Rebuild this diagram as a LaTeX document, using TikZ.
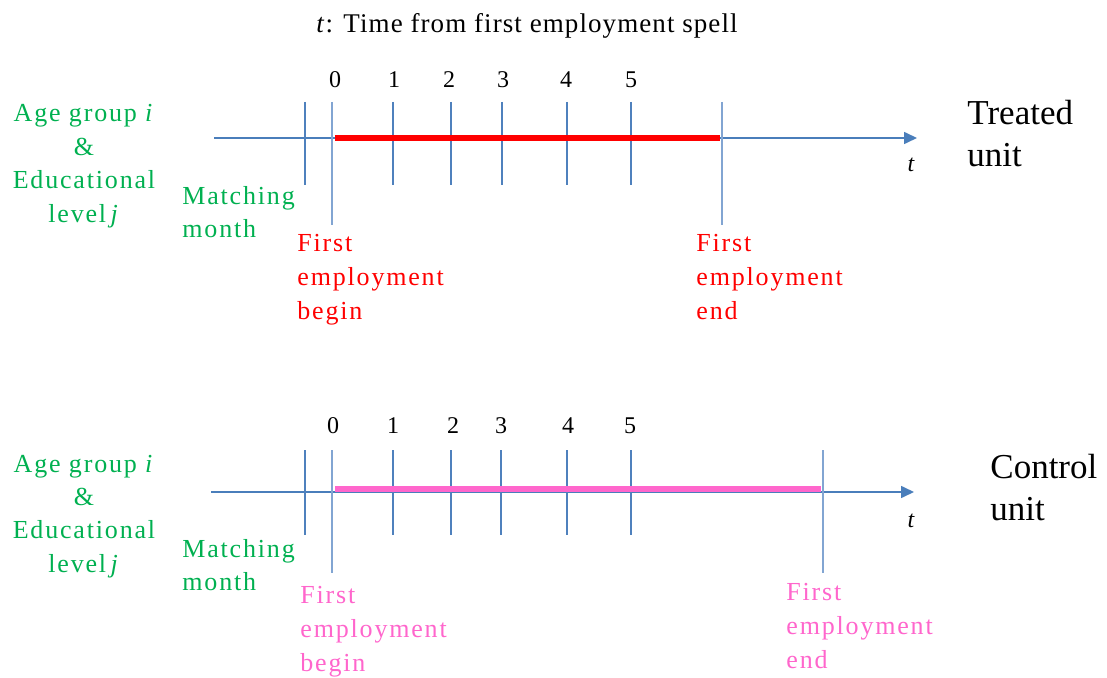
\documentclass[tikz,border=0pt]{standalone}
\usepackage{fontspec}
\setmainfont{Liberation Serif}
\newfontfamily\spaced[LetterSpace=7]{Liberation Serif}
\newfontfamily\spacedt[LetterSpace=4]{Liberation Serif}
\usetikzlibrary{arrows.meta}
\definecolor{axisblue}{RGB}{74,126,187}
\definecolor{tickblue}{RGB}{79,129,189}
\definecolor{lightblue}{RGB}{130,165,210}
\definecolor{labgreen}{RGB}{0,176,80}
\definecolor{spanred}{RGB}{255,0,0}
\definecolor{spanpink}{RGB}{255,102,204}
\newcommand\stk[2][l]{\begin{tabular}[t]{@{}#1@{}}#2\end{tabular}}
\tikzset{
  axisline/.style={draw=axisblue, line width=0.8pt, -{Triangle[length=6.5pt,width=6pt]}},
  tickline/.style={draw=tickblue, line width=0.75pt},
  edgetick/.style={draw=lightblue, line width=0.8pt},
  spanline/.style={line width=3.2pt},
  ticklab/.style={inner sep=0pt, anchor=base, font=\fontsize{12}{14}\selectfont},
  grouplab/.style={inner sep=0pt, anchor=base, text=labgreen, font=\spaced\fontsize{13}{16.7}\selectfont},
  matchlab/.style={inner sep=0pt, anchor=base west, text=labgreen, font=\spaced\fontsize{13}{16.5}\selectfont},
  evlab/.style={inner sep=0pt, anchor=base west, font=\spaced\fontsize{13}{17}\selectfont},
  unitlab/.style={inner sep=0pt, anchor=base west, font=\fontsize{17.5}{21}\selectfont},
  tlab/.style={inner sep=0pt, anchor=base, font=\fontsize{12}{14}\selectfont\itshape},
}
\begin{document}
\begin{tikzpicture}[x=0.5pt, y=-0.5pt]
\useasboundingbox (0,0) rectangle (1107,678);

% title
\node[inner sep=0pt, anchor=base, font=\spacedt\fontsize{13.5}{16}\selectfont] (title) at (527,33) {\textit{t}: Time from first employment spell};

% ================= Treated unit =================
\coordinate (Ta) at (214,138);
\coordinate (Tb) at (917,138);
\draw[axisline] (Ta) -- (Tb);
\coordinate (Tm1) at (305,102); \coordinate (Tm2) at (305,185);
\draw[tickline] (Tm1) -- (Tm2);
\coordinate (Ts1) at (332,102); \coordinate (Ts2) at (332,225);
\draw[edgetick] (Ts1) -- (Ts2);
\foreach \k/\xx in {1/393,2/451,3/502,4/567,5/631}{
  \coordinate (Tk\k a) at (\xx,102); \coordinate (Tk\k b) at (\xx,185);
  \draw[tickline] (Tk\k a) -- (Tk\k b);
}
\coordinate (Te1) at (722,102); \coordinate (Te2) at (722,225);
\draw[edgetick] (Te1) -- (Te2);
\coordinate (Tr1) at (335,138); \coordinate (Tr2) at (720,138);
\draw[spanline, spanred] (Tr1) -- (Tr2);
\foreach \k/\xx in {0/335,1/394,2/449,3/503,4/566,5/631}{
  \node[ticklab] (Tl\k) at (\xx,88) {\k};
}
\node[tlab] (Tt) at (911,172) {t};
\node[unitlab] (Tu) at (967,125) {\stk{Treated\\unit}};
\node[grouplab] (Tg) at (84,122) {\stk[c]{Age group \textit{i}\\\&\\Educational\\level\,\textit{j}}};
\node[matchlab] (Tmm) at (182,205) {\stk{Matching\\month}};
\node[evlab, text=spanred] (Tfb) at (297,252) {\stk{First\\employment\\begin}};
\node[evlab, text=spanred] (Tfe) at (696,252) {\stk{First\\employment\\end}};

% ================= Control unit =================
\coordinate (Ca) at (211,492);
\coordinate (Cb) at (914,492);
\draw[axisline] (Ca) -- (Cb);
\coordinate (Cm1) at (305,450); \coordinate (Cm2) at (305,535);
\draw[tickline] (Cm1) -- (Cm2);
\coordinate (Cs1) at (332,450); \coordinate (Cs2) at (332,573);
\draw[edgetick] (Cs1) -- (Cs2);
\foreach \k/\xx in {1/393,2/451,3/501,4/567,5/631}{
  \coordinate (Ck\k a) at (\xx,450); \coordinate (Ck\k b) at (\xx,535);
  \draw[tickline] (Ck\k a) -- (Ck\k b);
}
\coordinate (Ce1) at (823,450); \coordinate (Ce2) at (823,573);
\draw[edgetick] (Ce1) -- (Ce2);
\coordinate (Cr1) at (335,489); \coordinate (Cr2) at (821,489);
\draw[spanline, spanpink] (Cr1) -- (Cr2);
\foreach \k/\xx in {0/333,1/393,2/453,3/501,4/568,5/630}{
  \node[ticklab] (Cl\k) at (\xx,433) {\k};
}
\node[tlab] (Ct) at (911,527) {t};
\node[unitlab] (Cu) at (990,478) {\stk{Control\\unit}};
\node[grouplab] (Cg) at (84,472) {\stk[c]{Age group \textit{i}\\\&\\Educational\\level\,\textit{j}}};
\node[matchlab] (Cmm) at (182,557) {\stk{Matching\\month}};
\node[evlab, text=spanpink] (Cfb) at (300,603) {\stk{First\\employment\\begin}};
\node[evlab, text=spanpink] (Cfe) at (786,600) {\stk{First\\employment\\end}};
\end{tikzpicture}
\end{document}
